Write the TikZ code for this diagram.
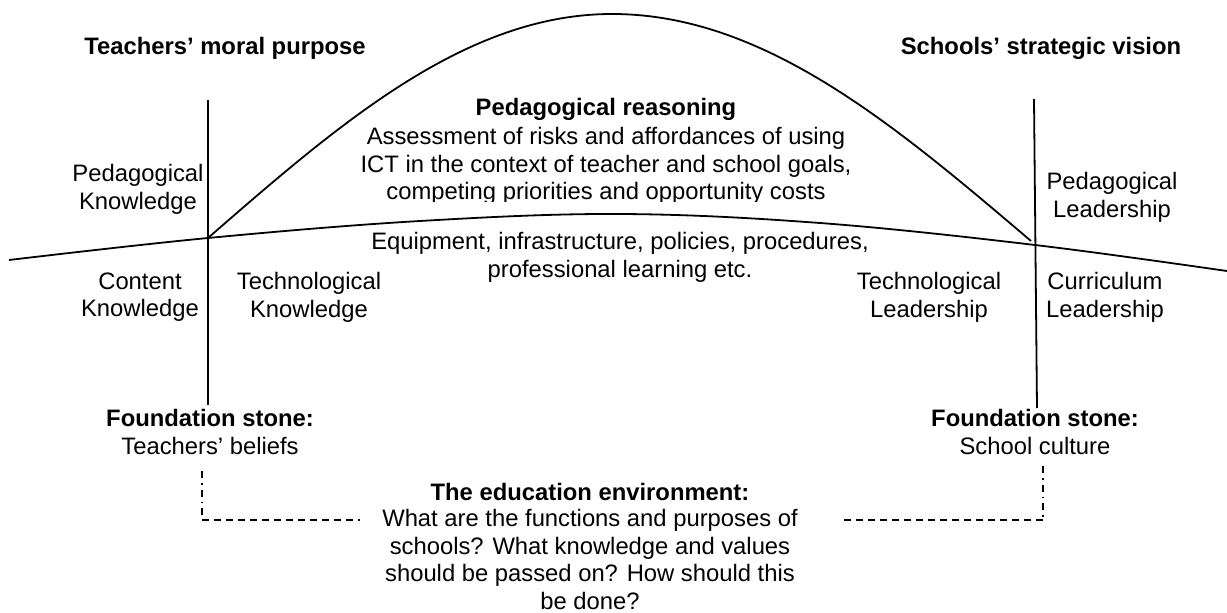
\documentclass[tikz,border=0pt]{standalone}
\usepackage{fontspec}
\setmainfont{Liberation Sans}
\begin{document}
\begin{tikzpicture}[x=1pt,y=-1pt,
  txt/.style={inner sep=0pt,align=center,font=\fontsize{23.8}{27.5}\selectfont},
  btxt/.style={inner sep=0pt,align=center,font=\fontsize{23.8}{27.5}\selectfont\bfseries},
  ln/.style={line width=1.8pt},
  dline/.style={line width=1.3pt,dash pattern=on 7pt off 5pt},
  ddline/.style={line width=1.3pt,dash pattern=on 7pt off 5pt on 1.5pt off 5pt}]
\useasboundingbox (0,0) rectangle (1227,613);
% coordinates
\coordinate (L) at (208,238);
\coordinate (R) at (1035,245);
\coordinate (A) at (1031,241);
\coordinate (P) at (612,14);
\coordinate (HL) at (9,260);
\coordinate (HR) at (1227,271);
\coordinate (LT) at (208,100);
\coordinate (LB) at (208,405);
\coordinate (RT) at (1034,99);
\coordinate (RB) at (1037,408);
% lines
\draw[ln] (LT) -- (LB);
\draw[ln] (RT) -- (RB);
\draw[ln] plot[smooth,tension=0.6] coordinates {(HL) (L) (420,221) (620,214) (820,223) (R) (HR)};
\draw[ln] (L) sin (P) cos (A);
% texts
\node[btxt,anchor=base] (tmp) at (225,54) {Teachers’ moral purpose};
\node[btxt,anchor=base] (ssv) at (1041,54) {Schools’ strategic vision};
\node[btxt,anchor=base] (pr) at (606,115) {Pedagogical reasoning};
\begin{scope}
\clip (300,120) rectangle (900,201);
\node[txt,anchor=north] (ass) at (606,127.5) {Assessment of risks and affordances of using\\ICT in the context of teacher and school goals,\\competing priorities and opportunity costs};
\end{scope}
\node[txt,anchor=north] (pk) at (138,164.5) {Pedagogical\\Knowledge};
\node[txt,anchor=north] (pl) at (1112,172.5) {Pedagogical\\Leadership};
\node[txt,anchor=north] (eq) at (620,232.5) {Equipment, infrastructure, policies, procedures,\\professional learning etc.};
\node[txt,anchor=north] (ck) at (140,272.5) {Content\\Knowledge};
\node[txt,anchor=north] (tk) at (309,272.5) {Technological\\Knowledge};
\node[txt,anchor=north] (tl) at (929,272.5) {Technological\\Leadership};
\node[txt,anchor=north] (cl) at (1105,272.5) {Curriculum\\Leadership};
\node[btxt,anchor=base] (fs1) at (210,426) {Foundation stone:};
\node[txt,anchor=base] (tb) at (210,454) {Teachers’ beliefs};
\node[btxt,anchor=base] (fs2) at (1035,426) {Foundation stone:};
\node[txt,anchor=base] (sc) at (1035,454) {School culture};
\node[btxt,anchor=base] (ee) at (590,500) {The education environment:};
\node[txt,anchor=north] (q) at (590,509.5) {What are the functions and purposes of\\schools? What knowledge and values\\should be passed on? How should this\\be done?};
% dashed connectors
\coordinate (dl1) at (202,471);
\coordinate (dl2) at (202,520);
\coordinate (dl3) at (360,520);
\coordinate (dr1) at (1043,466);
\coordinate (dr2) at (1043,520);
\coordinate (dr3) at (840,520);
\draw[ddline] (dl1) -- (dl2);
\draw[dline] (dl2) -- (dl3);
\draw[ddline] (dr1) -- (dr2);
\draw[dline] (dr2) -- (dr3);
\end{tikzpicture}
\end{document}
